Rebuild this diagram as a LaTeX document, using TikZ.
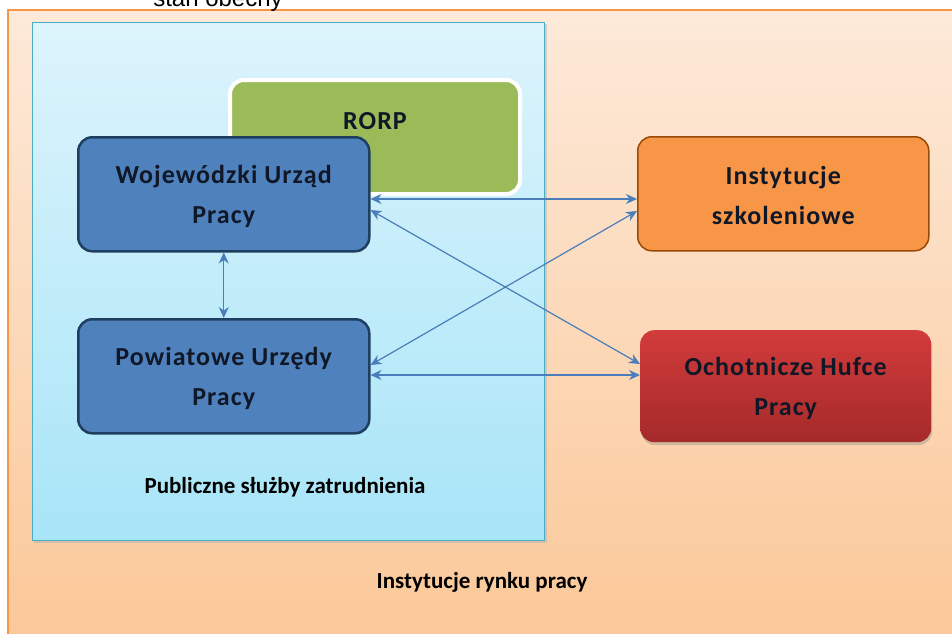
\documentclass[tikz,border=0pt]{standalone}
\usepackage{fontspec}
\setmainfont{Carlito}
\newfontfamily\arialf{Liberation Sans}
\newfontfamily\boxfont[LetterSpace=4]{Carlito}
\usetikzlibrary{arrows.meta,shadows}
\definecolor{peachA}{HTML}{FDEADA}
\definecolor{peachB}{HTML}{FBC898}
\definecolor{peachBorder}{HTML}{F79646}
\definecolor{cyanA}{HTML}{DDF4FC}
\definecolor{cyanB}{HTML}{A8E5F8}
\definecolor{cyanBorder}{HTML}{4BACC6}
\definecolor{rorpG}{HTML}{9BBB59}
\definecolor{wupB}{HTML}{4F81BD}
\definecolor{wupBorder}{HTML}{1F3F60}
\definecolor{instO}{HTML}{F79646}
\definecolor{instBorder}{HTML}{984807}
\definecolor{ohpA}{HTML}{D23B3B}
\definecolor{ohpB}{HTML}{A52A2A}
\definecolor{arrowC}{HTML}{4A7EBB}
\definecolor{txtC}{HTML}{101828}
\tikzset{
  boxtext/.style={font=\boxfont\bfseries\fontsize{26}{40}\selectfont, align=center, text=txtC},
  roundbox/.style={rounded corners=14pt, minimum width=291pt, minimum height=114pt, inner sep=0pt},
  link/.style={draw=arrowC, line width=1.2pt, {Stealth[length=11pt,width=10pt]}-{Stealth[length=11pt,width=10pt]}},
  caption/.style={font=\bfseries\fontsize{23}{26}\selectfont, text=black}
}
\begin{document}
\begin{tikzpicture}[x=1pt,y=1pt]
\useasboundingbox (0,0) rectangle (952,-633);
% outer region
\shade[top color=peachA, bottom color=peachB] (8,-10) rectangle (960,-640);
\draw[peachBorder, line width=1.2pt] (8,-640) -- (8,-10) -- (960,-10);
\node[font=\arialf\fontsize{24}{28}\selectfont, anchor=base] (title) at (218,-6) {stan obecny};
% public services box
\fill[black!30, opacity=0.5] (34,-24) rectangle (547,-543);
\shade[top color=cyanA, bottom color=cyanB] (32,-22) rectangle (544,-540);
\draw[cyanBorder, line width=1pt] (32,-22) rectangle (544,-540);
% RORP
\node[roundbox, fill=rorpG, draw=white, line width=4pt, minimum width=290pt, minimum height=114pt, anchor=north west] (rorp) at (228,-78) {};
\node[boxtext] (rorpt) at (375,-121) {RORP};
% WUP
\node[roundbox, fill=wupB, draw=wupBorder, line width=2.5pt, anchor=north west] (wup) at (77,-136) {};
\node[boxtext] (wupt) at ([yshift=-2pt]wup.center) {Wojewódzki Urząd\\Pracy};
% PUP
\node[roundbox, fill=wupB, draw=wupBorder, line width=2.5pt, anchor=north west] (pup) at (77,-318) {};
\node[boxtext] (pupt) at ([yshift=-2pt]pup.center) {Powiatowe Urzędy\\Pracy};
% Instytucje szkoleniowe
\node[roundbox, fill=instO, draw=instBorder, line width=1.5pt, anchor=north west] (inst) at (637,-136) {};
\node[boxtext] (instt) at ([yshift=-2pt]inst.center) {Instytucje\\szkoleniowe};
% OHP
\node[roundbox, top color=ohpA, bottom color=ohpB, drop shadow={shadow xshift=1pt, shadow yshift=-3pt, opacity=0.35}, minimum height=112pt, anchor=north west] (ohp) at (640,-330) {};
\node[boxtext] (ohpt) at ([yshift=-2pt]ohp.center) {Ochotnicze Hufce\\Pracy};
% connectors
\coordinate (w1) at (wup.east |- 0,-199);
\coordinate (w2) at (wup.east |- 0,-210);
\coordinate (p1) at (pup.east |- 0,-365);
\coordinate (p2) at (pup.east |- 0,-375);
\coordinate (i1) at (inst.west |- 0,-199);
\coordinate (i2) at (inst.west |- 0,-211);
\coordinate (o1) at (ohp.west |- 0,-364);
\coordinate (o2) at (ohp.west |- 0,-375);
\draw[link] (wup.south) -- (pup.north);
\draw[link] (w1) -- (i1);
\draw[link] (w2) -- (o1);
\draw[link] (p1) -- (i2);
\draw[link] (p2) -- (o2);
% captions
\node[caption] (psz) at (285,-487) {Publiczne służby zatrudnienia};
\node[caption] (irp) at (482,-582) {Instytucje rynku pracy};
\end{tikzpicture}
\end{document}
